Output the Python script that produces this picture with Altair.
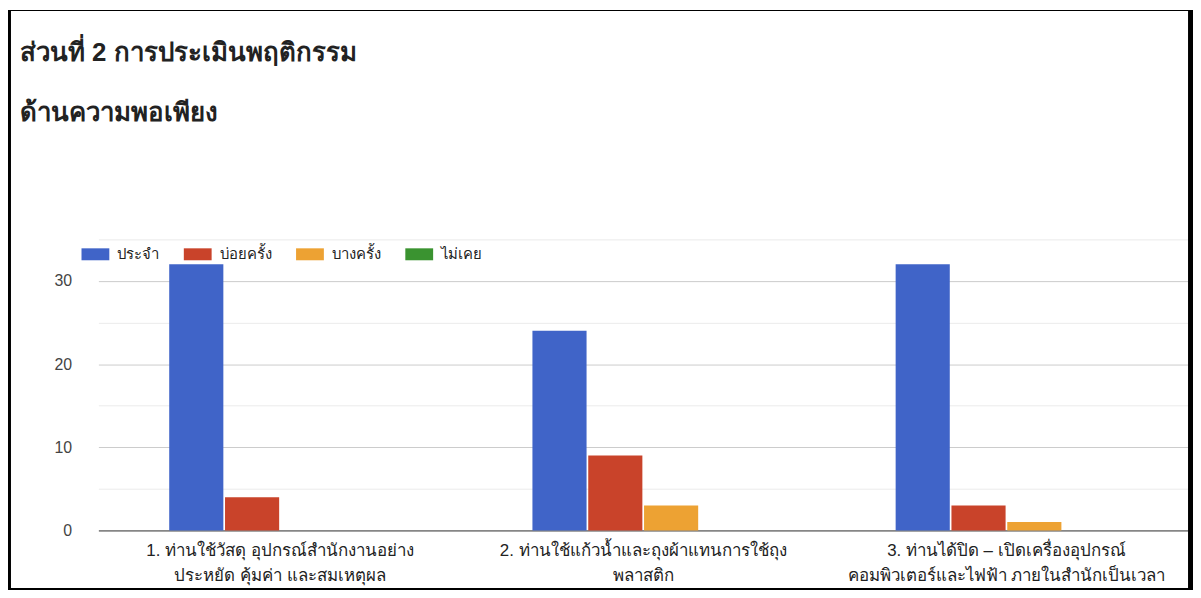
import altair as alt
import pandas as pd

# ---- data ----
questions = [
    "1. ท่านใช้วัสดุ อุปกรณ์สำนักงานอย่าง|ประหยัด คุ้มค่า และสมเหตุผล",
    "2. ท่านใช้แก้วน้ำและถุงผ้าแทนการใช้ถุง|พลาสติก",
    "3. ท่านได้ปิด – เปิดเครื่องอุปกรณ์|คอมพิวเตอร์และไฟฟ้า ภายในสำนักเป็นเวลา",
]
levels = ["ประจำ", "บ่อยครั้ง", "บางครั้ง", "ไม่เคย"]
always = [32, 24, 32]
often = [4, 9, 3]
sometimes = [0, 3, 1]
never = [0, 0, 0]
colors = ["#4064c8", "#c9432a", "#eda233", "#3a9330"]
y_ticks = [0, 5, 10, 15, 20, 25, 30, 35]
title_lines = ["ส่วนที่ 2 การประเมินพฤติกรรม", "ด้านความพอเพียง"]

series = [always, often, sometimes, never]
rows = []
for lvl, vals in zip(levels, series):
    for q, v in zip(questions, vals):
        rows.append({"question": q, "level": lvl, "value": v})
df = pd.DataFrame(rows)

FONT = "Arial, 'Liberation Sans', Tahoma, sans-serif"
W, H = 1097, 293

bars = alt.Chart(df).mark_bar().encode(
    x=alt.X(
        "question:N",
        sort=questions,
        scale=alt.Scale(paddingInner=0.39, paddingOuter=0.195),
        axis=alt.Axis(
            title=None,
            labelAngle=0,
            labelExpr="split(datum.label, '|')",
            labelFontSize=17,
            labelColor="#222222",
            labelLineHeight=25,
            labelPadding=12,
            labelLimit=500,
            ticks=False,
            domain=True,
            domainColor="#444444",
            domainWidth=1,
        ),
    ),
    xOffset=alt.XOffset("level:N", sort=levels, scale=alt.Scale(paddingInner=0.03)),
    y=alt.Y(
        "value:Q",
        scale=alt.Scale(domain=[0, 35], nice=False),
        axis=alt.Axis(
            title=None,
            values=y_ticks,
            labelExpr="datum.value % 10 === 0 ? datum.label : ''",
            labelFontSize=16,
            labelColor="#444444",
            labelPadding=27,
            ticks=False,
            domain=False,
            gridColor=alt.condition(
                "datum.value % 10 === 0", alt.value("#cccccc"), alt.value("#ebebeb")
            ),
            gridWidth=1,
        ),
    ),
    color=alt.Color(
        "level:N",
        sort=levels,
        scale=alt.Scale(domain=levels, range=colors),
        legend=alt.Legend(
            title=None,
            orient="none",
            legendX=-17,
            legendY=1,
            direction="horizontal",
            symbolType="M-1,-0.43 L1,-0.43 L1,0.43 L-1,0.43 Z",
            symbolSize=784,
            symbolStrokeWidth=0,
            symbolOpacity=1,
            labelFontSize=15,
            labelColor="#222222",
            labelOffset=8,
            columnPadding=24,
        ),
    ),
)

tdf = pd.DataFrame({"t": title_lines, "yy": [-180, -119]})
titles = alt.Chart(tdf).mark_text(
    align="left", baseline="alphabetic", fontSize=26, fontWeight="bold", color="#222222"
).encode(
    x=alt.value(-79),
    y=alt.Y("yy:Q", scale=None),
    text="t:N",
)

bdf = pd.DataFrame({"k": [0]})
border_left = alt.Chart(bdf).mark_rect(color="black").encode(
    x=alt.value(-91), x2=alt.value(-88), y=alt.value(-231), y2=alt.value(359)
)
border_top = alt.Chart(bdf).mark_rect(color="black").encode(
    x=alt.value(-91), x2=alt.value(1102), y=alt.value(-231), y2=alt.value(-230)
)
border_right = alt.Chart(bdf).mark_rect(color="black").encode(
    x=alt.value(1097), x2=alt.value(1102), y=alt.value(-231), y2=alt.value(359)
)
border_bottom = alt.Chart(bdf).mark_rect(color="black").encode(
    x=alt.value(-91), x2=alt.value(1102), y=alt.value(351), y2=alt.value(359)
)

chart = alt.layer(
    bars, titles, border_left, border_top, border_right, border_bottom
).properties(
    width=W,
    height=H,
    autosize=alt.AutoSizeParams(type="none"),
    padding={"left": 91, "top": 231, "right": 5, "bottom": 58},
).configure(
    font=FONT,
).configure_view(stroke=None)

chart.save("out.html", embed_options={"renderer": "svg", "actions": False})
